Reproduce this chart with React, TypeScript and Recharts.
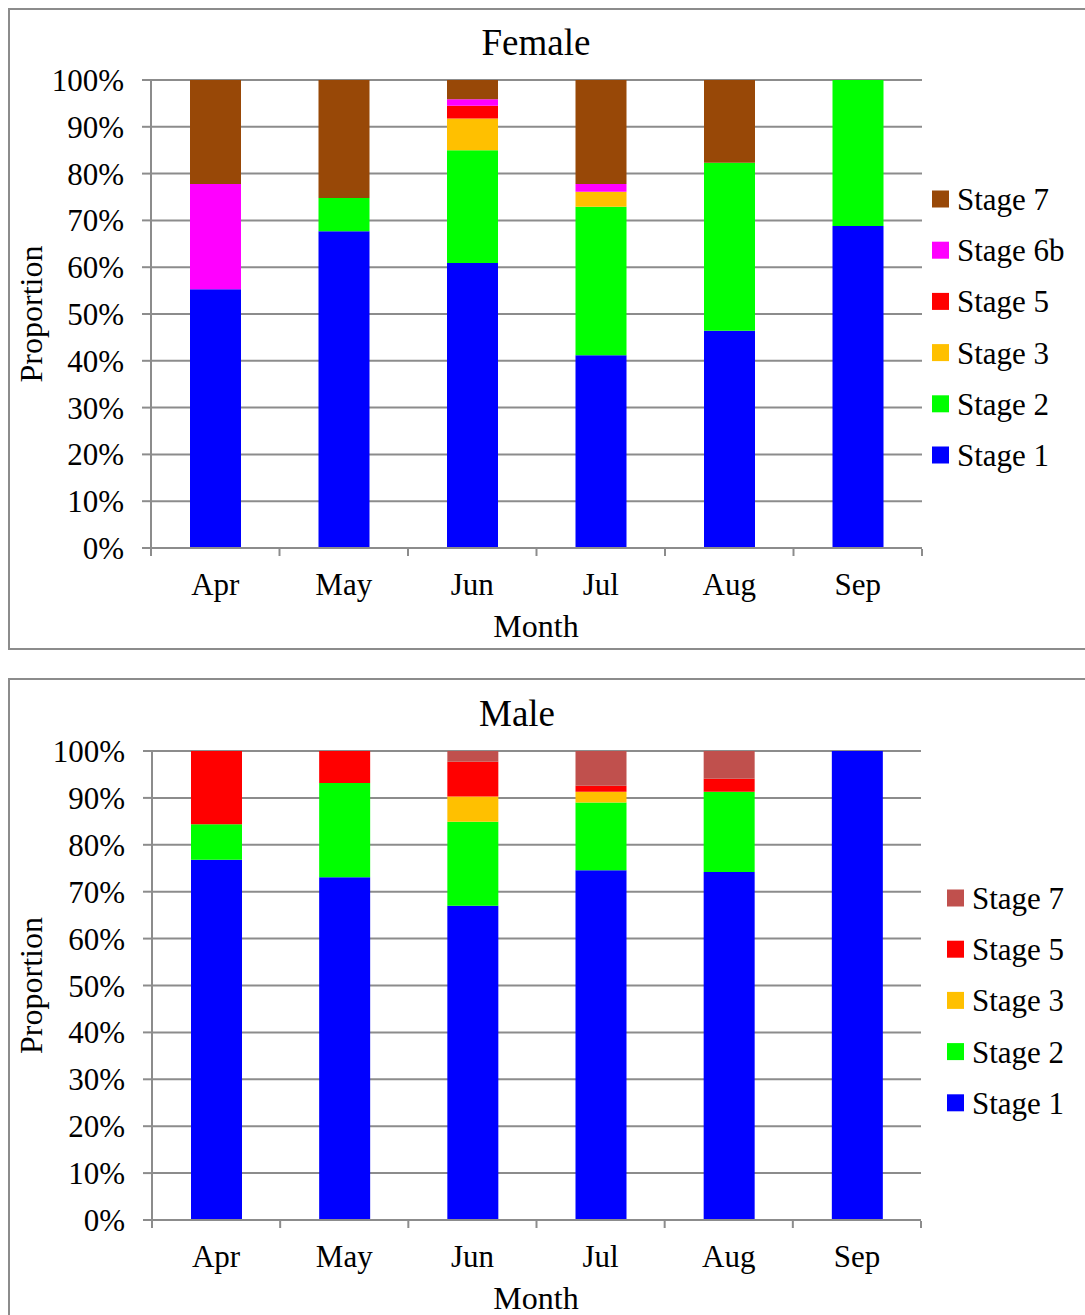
import React from 'react';
import { BarChart, Bar, XAxis, YAxis, CartesianGrid } from 'recharts';

const months = ['Apr', 'May', 'Jun', 'Jul', 'Aug', 'Sep'];
const yTicks = [0, 10, 20, 30, 40, 50, 60, 70, 80, 90, 100];
const boundaryTicks = [0, 1, 2, 3, 4, 5, 6];

// Female, % of each stage per month
const femaleStage1 = [55.3, 67.7, 60.9, 41.2, 46.4, 68.8];
const femaleStage2 = [0, 7.1, 24.1, 31.7, 35.9, 31.2];
const femaleStage3 = [0, 0, 6.8, 3.2, 0, 0];
const femaleStage5 = [0, 0, 2.7, 0, 0, 0];
const femaleStage6b = [22.5, 0, 1.4, 1.7, 0, 0];
const femaleStage7 = [22.2, 25.2, 4.1, 22.2, 17.7, 0];

// Male
const maleStage1 = [76.8, 73.1, 67.0, 74.6, 74.2, 100];
const maleStage2 = [7.6, 20.1, 17.9, 14.4, 17.1, 0];
const maleStage3 = [0, 0, 5.4, 2.3, 0, 0];
const maleStage5 = [15.6, 6.8, 7.4, 1.3, 2.8, 0];
const maleStage7 = [0, 0, 2.3, 7.4, 5.9, 0];

const femaleSeries = [
  { name: 'Stage 1', color: '#0000ff', values: femaleStage1 },
  { name: 'Stage 2', color: '#00ff00', values: femaleStage2 },
  { name: 'Stage 3', color: '#ffc000', values: femaleStage3 },
  { name: 'Stage 5', color: '#ff0000', values: femaleStage5 },
  { name: 'Stage 6b', color: '#ff00ff', values: femaleStage6b },
  { name: 'Stage 7', color: '#984807', values: femaleStage7 },
];

const maleSeries = [
  { name: 'Stage 1', color: '#0000ff', values: maleStage1 },
  { name: 'Stage 2', color: '#00ff00', values: maleStage2 },
  { name: 'Stage 3', color: '#ffc000', values: maleStage3 },
  { name: 'Stage 5', color: '#ff0000', values: maleStage5 },
  { name: 'Stage 7', color: '#c0504d', values: maleStage7 },
];

const FONT = '"Liberation Serif", "Times New Roman", serif';
const GRAY = '#8c8c8c';

type Series = { name: string; color: string; values: number[] };

function buildRows(series: Series[]) {
  return months.map((m, i) => {
    const row: Record<string, string | number> = { month: m, edge: i + 0.5 };
    series.forEach((s) => (row[s.name] = s.values[i]));
    return row;
  });
}

function Panel({ series, title, top, height, margin, titleX, titleY, legendX, legendY, monthY }: any) {
  const data = buildRows(series);
  const plotTop = margin.top;
  const plotBottom = height - margin.bottom - 2;
  const midY = (plotTop + plotBottom) / 2;
  return (
    <div style={{ position: 'absolute', left: 0, top, width: 1085, height }}>
      <BarChart width={1085} height={height} data={data} margin={margin} barSize={51}>
        <CartesianGrid vertical={false} stroke={GRAY} strokeWidth={2} />
        <XAxis
          dataKey="month"
          height={1}
          tickLine={false}
          tickSize={8}
          tickMargin={17}
          axisLine={{ stroke: GRAY, strokeWidth: 2 }}
          tick={{ fill: '#000', fontSize: 31, fontFamily: FONT }}
          interval={0}
        />
        <XAxis
          xAxisId="edges"
          dataKey="edge"
          type="number"
          domain={[0, 6]}
          ticks={boundaryTicks}
          interval={0}
          height={1}
          tick={() => <g />}
          tickSize={7}
          axisLine={false}
          tickLine={{ stroke: GRAY, strokeWidth: 2 }}
        />
        <YAxis
          width={100}
          domain={[0, 100]}
          ticks={yTicks}
          tickFormatter={(v: number) => `${v}%`}
          tickSize={9}
          tickMargin={18}
          axisLine={{ stroke: GRAY, strokeWidth: 2 }}
          tickLine={{ stroke: GRAY, strokeWidth: 2 }}
          tick={{ fill: '#000', fontSize: 31, fontFamily: FONT }}
          interval={0}
        />
        {series.map((s: Series) => (
          <Bar key={s.name} dataKey={s.name} stackId="a" fill={s.color} isAnimationActive={false} />
        ))}
      </BarChart>
      <svg
        width={1085}
        height={height}
        style={{ position: 'absolute', left: 0, top: 0, pointerEvents: 'none' }}
        fontFamily={FONT}
      >
        <text x={titleX} y={titleY} textAnchor="middle" fontSize={37} fill="#000">
          {title}
        </text>
        <text x={536} y={monthY} textAnchor="middle" fontSize={32} fill="#000">
          Month
        </text>
        <text
          x={0}
          y={0}
          transform={`translate(42 ${midY}) rotate(-90)`}
          textAnchor="middle"
          fontSize={32}
          fill="#000"
        >
          Proportion
        </text>
        {[...series].reverse().map((s: Series, i: number) => {
          const cy = legendY + i * 51.2;
          return (
            <g key={s.name}>
              <rect x={legendX} y={cy - 8.5} width={17} height={17} fill={s.color} />
              <text x={legendX + 25} y={cy + 11} fontSize={31} fill="#000">
                {s.name}
              </text>
            </g>
          );
        })}
      </svg>
    </div>
  );
}

export default function App() {
  return (
    <div
      style={{
        position: 'absolute',
        left: 0,
        top: 0,
        width: 1085,
        height: 1315,
        overflow: 'hidden',
        background: '#fff',
      }}
    >
      <div style={{ position: 'absolute', left: 8, top: 8, width: 1100, height: 638, border: `2px solid ${GRAY}` }} />
      <div style={{ position: 'absolute', left: 8, top: 678, width: 1100, height: 700, border: `2px solid ${GRAY}` }} />
      <Panel
        series={femaleSeries}
        title="Female"
        top={0}
        height={650}
        margin={{ top: 80, right: 163, bottom: 100, left: 51 }}
        titleX={536}
        titleY={55}
        legendX={932}
        legendY={199}
        monthY={637}
      />
      <Panel
        series={maleSeries}
        title="Male"
        top={672}
        height={643}
        margin={{ top: 79, right: 164, bottom: 93, left: 52 }}
        titleX={517}
        titleY={54}
        legendX={947}
        legendY={226}
        monthY={637}
      />
    </div>
  );
}
